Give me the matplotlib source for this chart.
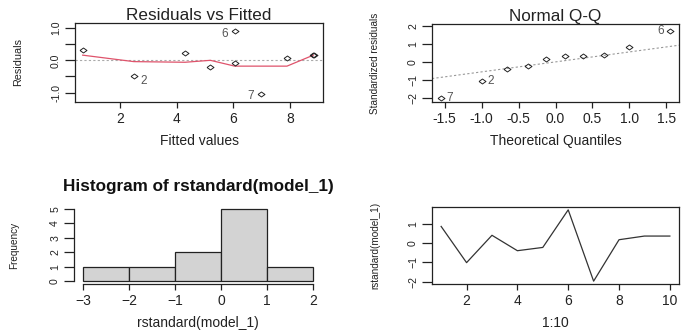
import numpy as np
import matplotlib
matplotlib.use('Agg')
import matplotlib.pyplot as plt

plt.rcParams['font.family'] = ['Liberation Sans', 'DejaVu Sans']

# diagnostics of model_1
obs_id = [1, 2, 3, 4, 5, 6, 7, 8, 9, 10]
fitted = [0.69, 2.49, 4.30, 5.19, 6.05, 6.05, 6.99, 7.89, 8.81, 8.83]
resid = [0.33, -0.50, 0.22, -0.22, -0.09, 0.91, -1.03, 0.08, 0.16, 0.18]
smooth_x = [0.69, 2.49, 4.30, 5.19, 6.05, 6.99, 7.89, 8.82]
smooth_y = [0.16, -0.04, -0.06, 0.0, -0.18, -0.18, -0.18, 0.16]
rstd = [0.87, -1.01, 0.41, -0.39, -0.22, 1.73, -1.97, 0.18, 0.37, 0.37]
theo_q = [-1.5466, -1.0003, -0.6554, -0.3755, -0.1226,
          0.1226, 0.3755, 0.6554, 1.0003, 1.5466]
hist_breaks = [-3, -2, -1, 0, 1, 2]
hist_counts = [1, 1, 2, 5, 1]
labelled = [2, 6, 7]

W, H = 681, 334
HFONT = 10     # horizontal text
VTICK = 7.6    # vertical tick labels (picture is squeezed sideways)
VLAB = 7.2     # vertical axis titles
INK = '#222222'

diamond = [(-1.4, 0), (0, 1), (1.4, 0), (0, -1), (-1.4, 0)]


def box(l, t, r, b):
    return [l / W, 1 - b / H, (r - l) / W, (b - t) / H]


def style(ax, frame=True):
    for s in ax.spines.values():
        s.set_color(INK)
        s.set_linewidth(0.9)
        s.set_visible(frame)
    ax.tick_params(axis='x', length=4, width=0.9, color=INK, labelsize=HFONT, pad=3, labelcolor=INK)
    ax.tick_params(axis='y', length=7, width=0.9, color=INK, labelsize=VTICK, pad=3, labelcolor=INK,
                   labelrotation=90)
    for t in ax.get_yticklabels():
        t.set_va('center')


fig = plt.figure(figsize=(W / 100, H / 100), dpi=100)

# Residuals vs Fitted
ax1 = fig.add_axes(box(75, 23, 323, 102))
ax1.axhline(0, color='#aaaaaa', lw=0.8, ls=(0, (2, 2)))
ax1.plot(smooth_x, smooth_y, color='#DF536B', lw=0.9)
ax1.plot(fitted, resid, ls='none', marker=diamond, ms=5, mfc='none', mec=INK, mew=0.7)
for i in labelled:
    k = obs_id.index(i)
    off = (5, -3) if i == 2 else (-5, -2)
    ax1.annotate(str(i), (fitted[k], resid[k]), xytext=off, textcoords='offset points',
                 ha='left' if i == 2 else 'right', va='center', fontsize=8.5, color='#555555')
ax1.set_xlim(0.42, 9.16)
ax1.set_ylim(-1.29, 1.155)
ax1.set_xticks([2, 4, 6, 8])
ax1.set_yticks([-1, -0.5, 0, 0.5, 1])
ax1.set_yticklabels(['-1.0', '', '0.0', '', '1.0'])
style(ax1)
ax1.set_title('Residuals vs Fitted', fontsize=12.3, color=INK, pad=2)
ax1.set_xlabel('Fitted values', fontsize=HFONT, color=INK, labelpad=6)
ax1.set_ylabel('Residuals', fontsize=VLAB + 0.6, color=INK, labelpad=20)

# Normal Q-Q
ax2 = fig.add_axes(box(432, 24, 679, 102))
rs_sorted = np.sort(rstd)
order = np.argsort(rstd)
q25, q75 = np.quantile(rstd, [0.25, 0.75])
slope = (q75 - q25) / (2 * 0.6744898)
icpt = q25 + slope * 0.6744898
xl = np.array([-1.67, 1.67])
ax2.plot(xl, icpt + slope * xl, color='#999999', lw=0.8, ls=(0, (2, 2)))
ax2.plot(theo_q, rs_sorted, ls='none', marker=diamond, ms=5, mfc='none', mec=INK, mew=0.7)
for j, k in enumerate(order):
    i = obs_id[k]
    if i in labelled:
        right = i != 6
        ax2.annotate(str(i), (theo_q[j], rs_sorted[j]), xytext=(4 if right else -4, 0),
                     textcoords='offset points', ha='left' if right else 'right', va='center',
                     fontsize=8.5, color='#555555')
ax2.set_xlim(-1.67, 1.67)
ax2.set_ylim(-2.2, 2.13)
ax2.set_xticks([-1.5, -1.0, -0.5, 0.0, 0.5, 1.0, 1.5])
ax2.set_xticklabels(['-1.5', '-1.0', '-0.5', '0.0', '0.5', '1.0', '1.5'])
ax2.set_yticks([-2, -1, 0, 1, 2])
style(ax2)
ax2.set_title('Normal Q-Q', fontsize=12.3, color=INK, pad=2)
ax2.set_xlabel('Theoretical Quantiles', fontsize=HFONT, color=INK, labelpad=6)
ax2.set_ylabel('Standardized residuals', fontsize=VLAB, color=INK, labelpad=20)

# Histogram
ax3 = fig.add_axes(box(74, 206, 322, 284))
ax3.bar(hist_breaks[:-1], hist_counts, width=1, align='edge', color='#D3D3D3',
        edgecolor=INK, linewidth=0.9)
ax3.set_xlim(-3.2, 2.2)
ax3.set_ylim(-0.2, 5.2)
ax3.set_xticks(hist_breaks)
ax3.set_yticks([0, 1, 2, 3, 4, 5])
style(ax3, frame=False)
ax3.spines['left'].set_visible(True)
ax3.spines['bottom'].set_visible(True)
ax3.spines['left'].set_bounds(0, 5)
ax3.spines['bottom'].set_bounds(-3, 2)
ax3.set_title('Histogram of rstandard(model_1)', fontsize=12.3, fontweight='bold', color='#111111', pad=11)
ax3.set_xlabel('rstandard(model_1)', fontsize=HFONT, color=INK, labelpad=6)
ax3.set_ylabel('Frequency', fontsize=VLAB, color=INK, labelpad=22)

# rstandard by index
ax4 = fig.add_axes(box(432, 207, 679, 284))
ax4.plot(obs_id, rstd, color='#333333', lw=0.9)
ax4.margins(x=0.04, y=0.04)
ax4.set_xticks([2, 4, 6, 8, 10])
ax4.set_yticks([-2, -1, 0, 1])
style(ax4)
ax4.set_xlabel('1:10', fontsize=HFONT, color=INK, labelpad=6)
ax4.set_ylabel('rstandard(model_1)', fontsize=VLAB, color=INK, labelpad=20)

fig.savefig('out.png', dpi=100, facecolor='white')
